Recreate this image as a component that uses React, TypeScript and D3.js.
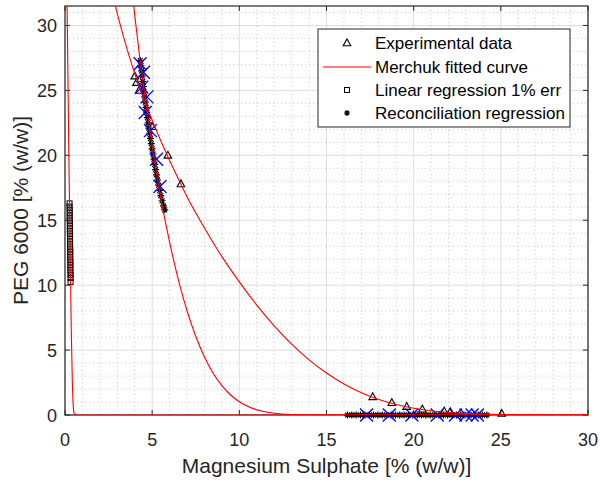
import React from "react";
import * as d3 from "d3";

// ---------- data ----------
const xTicks = [0, 5, 10, 15, 20, 25, 30];
const yTicks = [0, 5, 10, 15, 20, 25, 30];

// Experimental data (triangles)
const expX = [4.0, 4.1, 4.25, 5.0, 5.9, 6.65, 17.65, 18.75, 19.6, 20.5, 21.75, 22.1, 25.05];
const expY = [26.1, 25.6, 25.0, 22.2, 20.0, 17.8, 1.4, 0.95, 0.65, 0.45, 0.3, 0.25, 0.12];

// Merchuk fitted curves
const curveOuterX = [2.7, 2.89, 3.2, 3.6, 4.0, 4.5, 5.0, 5.5, 6.0, 6.5, 7, 8, 9, 10, 11, 12, 13, 14, 15, 16, 17, 18, 19, 20, 21, 22, 23, 24, 25, 27, 30];
const curveOuterY = [32.6, 31.5, 29.9, 28.0, 26.3, 24.4, 22.7, 21.1, 19.6, 18.2, 16.8, 14.4, 12.2, 10.25, 8.46, 6.86, 5.46, 4.25, 3.23, 2.38, 1.71, 1.19, 0.805, 0.524, 0.329, 0.198, 0.115, 0.064, 0.034, 0.008, 0.0];

const curveInnerX = [3.7, 4.0, 4.3, 4.6, 5.0, 5.4, 5.8, 6.2, 6.6, 7.0, 7.5, 8.0, 8.5, 9.0, 9.5, 10, 11, 12, 13, 14, 16, 30];
const curveInnerY = [34.5, 30.8, 27.4, 24.4, 20.7, 17.4, 14.6, 12.1, 9.9, 8.03, 6.06, 4.47, 3.22, 2.26, 1.54, 1.02, 0.4, 0.14, 0.041, 0.01, 0.0, 0.0];

const curveAxisX = [0.08, 0.12, 0.22, 0.3, 0.36, 0.42, 0.47, 0.52, 0.6, 0.8, 30.0];
const curveAxisY = [35.0, 31.5, 20.0, 12.5, 6.5, 2.6, 0.8, 0.15, 0.02, 0.0, 0.0];

// Linear regression 1% err (squares)
const linX = [0.26, 0.26, 0.27, 0.27, 0.27, 0.27, 0.28, 0.28, 0.28, 0.28, 0.29, 0.29, 0.29, 0.29, 0.3, 0.3, 0.3, 0.3, 0.31, 0.31, 0.31, 0.31, 0.32, 0.32, 0.32];
const linY = [16.3, 16.05, 15.8, 15.55, 15.3, 15.05, 14.8, 14.55, 14.3, 14.05, 13.8, 13.55, 13.3, 13.05, 12.8, 12.55, 12.3, 12.05, 11.8, 11.55, 11.3, 11.05, 10.8, 10.55, 10.25];

// Reconciliation regression (asterisks)
const recX = [4.32, 4.36, 4.4, 4.43, 4.46, 4.5, 4.53, 4.57, 4.61, 4.65, 4.69, 4.73, 4.77, 4.81, 4.86, 4.9, 4.95, 5.0, 5.05, 5.1, 5.15, 5.2, 5.25, 5.31, 5.37, 5.43, 5.5, 5.57, 5.65, 5.72,
  16.2, 16.45, 16.7, 16.95, 17.2, 17.45, 17.7, 17.95, 18.2, 18.45, 18.7, 18.95, 19.2, 19.45, 19.7, 19.95, 20.2, 20.45, 20.7, 20.95, 21.2, 21.45, 21.7, 21.95, 22.2, 22.45, 22.7, 22.95, 23.2, 23.45, 23.7, 23.95, 24.2];
const recY = [27.3, 26.9, 26.5, 26.1, 25.7, 25.3, 24.9, 24.5, 24.1, 23.7, 23.3, 22.9, 22.5, 22.1, 21.7, 21.3, 20.9, 20.5, 20.1, 19.7, 19.3, 18.9, 18.5, 18.1, 17.7, 17.3, 16.9, 16.5, 16.1, 15.8,
  0, 0, 0, 0, 0, 0, 0, 0, 0, 0, 0, 0, 0, 0, 0, 0, 0, 0, 0, 0, 0, 0, 0, 0, 0, 0, 0, 0, 0, 0, 0, 0, 0];

// Blue crosses (unlabelled series)
const crossX = [4.31, 4.5, 4.41, 4.7, 4.6, 4.9, 5.25, 5.45, 17.3, 18.6, 19.9, 21.35, 22.4, 23.0, 23.35, 23.65];
const crossY = [27.05, 26.4, 25.25, 24.5, 23.3, 21.9, 19.7, 17.6, 0, 0, 0, 0, 0, 0, 0, 0];

const legendLabels = ["Experimental data", "Merchuk fitted curve", "Linear regression 1% err", "Reconciliation regression"];

// ---------- layout ----------
const W = 600, H = 483;
const L = 65, R = 588, T = 6, B = 415;
const FONT = "'Liberation Sans', Arial, Helvetica, sans-serif";
const TXT = "#262626";

export default function App() {
  const x = d3.scaleLinear().domain([0, 30]).range([L, R]);
  const y = d3.scaleLinear().domain([0, 31.5]).range([B, T]);

  const minorX = d3.range(0, 31, 1).filter((v) => v % 5 !== 0);
  const minorY = d3.range(0, 32, 1).filter((v) => v % 5 !== 0);

  const line = d3
    .line<[number, number]>()
    .x((d) => x(d[0]))
    .y((d) => y(d[1]))
    .curve(d3.curveMonotoneX);

  const curves = [
    d3.zip(curveOuterX, curveOuterY) as [number, number][],
    d3.zip(curveInnerX, curveInnerY) as [number, number][],
    d3.zip(curveAxisX, curveAxisY) as [number, number][],
  ];

  const tri = (cx: number, cy: number, k: string | number) => (
    <path key={k} d={`M${cx},${cy - 4}L${cx + 3.8},${cy + 2.8}L${cx - 3.8},${cy + 2.8}Z`} fill="none" stroke="#000" strokeWidth={1.1} />
  );
  const sq = (cx: number, cy: number, k: string | number) => (
    <rect key={k} x={cx - 2.5} y={cy - 2.5} width={5} height={5} fill="none" stroke="#000" strokeWidth={1} />
  );
  const star = (cx: number, cy: number, k: string | number, s = 3.5) => (
    <path key={k} d={`M${cx - s},${cy}L${cx + s},${cy}M${cx},${cy - s}L${cx},${cy + s}M${cx - s * 0.7},${cy - s * 0.7}L${cx + s * 0.7},${cy + s * 0.7}M${cx - s * 0.7},${cy + s * 0.7}L${cx + s * 0.7},${cy - s * 0.7}`} stroke="#000" strokeWidth={1.2} fill="none" />
  );
  const cross = (cx: number, cy: number, k: string | number) => (
    <path key={k} d={`M${cx - 6.5},${cy - 6.5}L${cx + 6.5},${cy + 6.5}M${cx - 6.5},${cy + 6.5}L${cx + 6.5},${cy - 6.5}`} stroke="#0000ff" strokeWidth={1.3} fill="none" />
  );

  const legX = 318, legY = 29, legW = 252, legH = 98;
  const rowY = [43, 67, 90, 113];

  return (
    <svg width={W} height={H} style={{ position: "absolute", left: 0, top: 0, background: "#fff" }} fontFamily={FONT}>
      <rect x={0} y={0} width={W} height={H} fill="#fff" />
      <clipPath id="plotclip">
        <rect x={L} y={T} width={R - L} height={B - T} />
      </clipPath>
      {/* minor grid */}
      <g stroke="#c8c8c8" strokeWidth={1} strokeDasharray="1,3">
        {minorX.map((v) => (
          <line key={"mx" + v} x1={x(v)} x2={x(v)} y1={T} y2={B} />
        ))}
        {minorY.map((v) => (
          <line key={"my" + v} x1={L} x2={R} y1={y(v)} y2={y(v)} />
        ))}
      </g>
      {/* major grid */}
      <g stroke="#dedede" strokeWidth={1}>
        {xTicks.map((v) => (
          <line key={"gx" + v} x1={x(v)} x2={x(v)} y1={T} y2={B} />
        ))}
        {yTicks.map((v) => (
          <line key={"gy" + v} x1={L} x2={R} y1={y(v)} y2={y(v)} />
        ))}
      </g>

      {/* axes box */}
      <rect x={L} y={T} width={R - L} height={B - T} fill="none" stroke="#262626" strokeWidth={1.2} />
      {/* ticks */}
      <g stroke="#262626" strokeWidth={1}>
        {xTicks.map((v) => (
          <g key={"tx" + v}>
            <line x1={x(v)} x2={x(v)} y1={B} y2={B - 5} />
            <line x1={x(v)} x2={x(v)} y1={T} y2={T + 5} />
          </g>
        ))}
        {yTicks.map((v) => (
          <g key={"ty" + v}>
            <line x1={L} x2={L + 5} y1={y(v)} y2={y(v)} />
            <line x1={R} x2={R - 5} y1={y(v)} y2={y(v)} />
          </g>
        ))}
      </g>

      <g>
        {expX.map((v, i) => tri(x(v), y(expY[i]), "t" + i))}
        {linX.map((v, i) => sq(x(v), y(linY[i]), "s" + i))}
        {recX.map((v, i) => star(x(v), y(recY[i]), "a" + i))}
        {crossX.map((v, i) => cross(x(v), y(crossY[i]), "c" + i))}
      </g>
      <g clipPath="url(#plotclip)">
        {curves.map((c, i) => (
          <path key={"cv" + i} d={line(c) || ""} fill="none" stroke="#ff0000" strokeWidth={1.1} />
        ))}
      </g>

      {/* tick labels */}
      <g fill={TXT} fontSize={18}>
        {xTicks.map((v) => (
          <text key={"lx" + v} x={x(v)} y={B + 31} textAnchor="middle">
            {v}
          </text>
        ))}
        {yTicks.map((v) => (
          <text key={"ly" + v} x={L - 8} y={y(v) + 6.5} textAnchor="end">
            {v}
          </text>
        ))}
      </g>
      <text x={(L + R) / 2} y={473} textAnchor="middle" fontSize={21} fill={TXT}>
        Magnesium Sulphate [% (w/w)]
      </text>
      <text transform={`translate(28,${(T + B) / 2}) rotate(-90)`} textAnchor="middle" fontSize={21} fill={TXT}>
        PEG 6000 [% (w/w)]
      </text>

      {/* legend */}
      <rect x={legX} y={legY} width={legW} height={legH} fill="#fff" stroke="#262626" strokeWidth={1} />
      {tri(347, rowY[0], "lt")}
      <line x1={323} x2={371} y1={rowY[1]} y2={rowY[1]} stroke="#ff0000" strokeWidth={1.1} />
      {sq(347, rowY[2], "ls")}
      {star(347, rowY[3], "la", 3)}
      <g fontSize={17} fill="#000">
        {legendLabels.map((t, i) => (
          <text key={"lg" + i} x={375} y={rowY[i] + 6}>
            {t}
          </text>
        ))}
      </g>
    </svg>
  );
}
